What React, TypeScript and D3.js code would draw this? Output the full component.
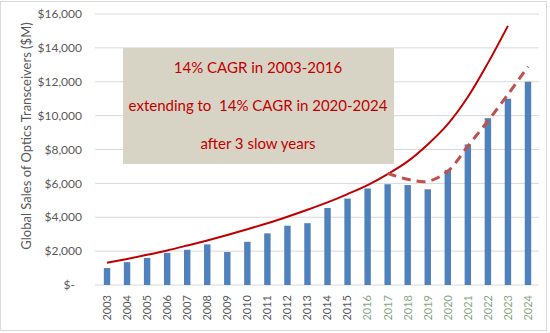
import React from "react";
import * as d3 from "d3";

const years = ["2003","2004","2005","2006","2007","2008","2009","2010","2011","2012","2013","2014","2015","2016","2017","2018","2019","2020","2021","2022","2023","2024"];
const sales = [1000,1350,1600,1900,2080,2400,1950,2550,3050,3500,3650,4550,5100,5700,5950,5900,5650,6800,8300,9850,11000,12000];
const trendYears = ["2003","2004","2005","2006","2007","2008","2009","2010","2011","2012","2013","2014","2015","2016","2017","2018","2019","2020","2021","2022","2023"];
const trendValues = [1320,1540,1780,2040,2330,2630,2950,3290,3650,4030,4440,4880,5370,5900,6550,7300,8300,9500,11100,13100,15300];
const forecastYears = ["2017","2018","2019","2020","2021","2022","2023","2024"];
const forecastValues = [6600,6240,6120,6720,8200,9680,11250,12900];
const yTicks = [0,2000,4000,6000,8000,10000,12000,14000,16000];
const yTickLabels = ["$-","$2,000","$4,000","$6,000","$8,000","$10,000","$12,000","$14,000","$16,000"];
const noteLines = ["14% CAGR in 2003-2016","extending to  14% CAGR in 2020-2024","after 3 slow years"];
const yAxisTitle = "Global Sales of Optics Transceivers ($M)";
const forecastLabelStart = "2016";

const W = 550, H = 333;
const font = "Lato, 'Open Sans', sans-serif";

export default function App() {
  const x = d3.scaleBand<string>().domain(years).range([97, 538]).paddingInner(0.68).paddingOuter(0.34);
  const y = d3.scaleLinear().domain([0, 16000]).range([285, 14]);
  const cx = (yr: string) => (x(yr) as number) + x.bandwidth() / 2;

  const line = d3.line<[string, number]>().x(d => cx(d[0])).y(d => y(d[1])).curve(d3.curveCatmullRom.alpha(0.5));
  const trendPath = line(trendYears.map((t, i) => [t, trendValues[i]]) as [string, number][]) || "";
  const fcPath = line(forecastYears.map((t, i) => [t, forecastValues[i]]) as [string, number][]) || "";
  const fcIndex = years.indexOf(forecastLabelStart);

  return (
    <svg width={W} height={H} style={{ position: "absolute", left: 0, top: 0, background: "#fff" }} fontFamily={font}>
      <rect x={0.5} y={1.5} width={546} height={329} fill="#fff" stroke="#d9d9d9" />
      {yTicks.map((t, i) => (
        <g key={t}>
          <line x1={95} x2={539} y1={y(t)} y2={y(t)} stroke="#d9d9d9" strokeWidth={1} />
          <text x={t === 0 ? 75 : 82} y={y(t)} dy="0.35em" textAnchor="end" fontSize={12} fill="#595959">{yTickLabels[i]}</text>
        </g>
      ))}
      <text transform={`translate(26,136) rotate(-90)`} textAnchor="middle" dy="0.35em" fontSize={13} fill="#595959">{yAxisTitle}</text>
      {years.map((yr, i) => (
        <rect key={yr} x={x(yr)} y={y(sales[i])} width={x.bandwidth()} height={y(0) - y(sales[i])} fill="#4f81bd" />
      ))}
      {years.map((yr, i) => (
        <text key={"l" + yr} transform={`translate(${cx(yr)},295) rotate(-90)`} textAnchor="end" dy="0.35em" fontSize={11} fill={i >= fcIndex ? "#86a882" : "#595959"}>{yr}</text>
      ))}
      <rect x={123} y={48} width={271} height={116} fill="#d8d4c5" />
      {noteLines.map((t, i) => (
        <text key={t} x={258} y={68 + i * 38} dy="0.35em" textAnchor="middle" fontSize={15} fill="#c00000" style={{ whiteSpace: "pre" }}>{t}</text>
      ))}
      <path d={trendPath} fill="none" stroke="#c00000" strokeWidth={2} />
      <path d={fcPath} fill="none" stroke="#c0504d" strokeWidth={3} strokeDasharray="9,6" />
    </svg>
  );
}
